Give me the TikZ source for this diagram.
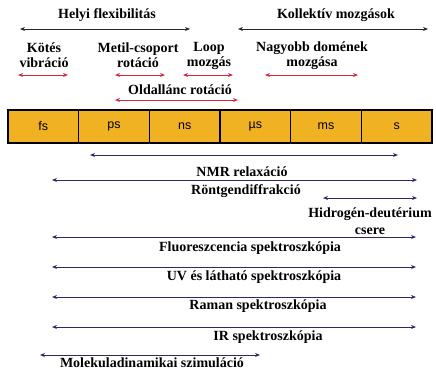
\documentclass[tikz,border=0pt]{standalone}
\usepackage{fontspec}
\setmainfont{Liberation Serif}
\newfontfamily\cellfont{Liberation Sans}
\usepackage{xcolor}
\usetikzlibrary{arrows.meta,positioning,calc}
\definecolor{barOrange}{RGB}{240,178,35}
\definecolor{motRed}{RGB}{215,40,60}
\definecolor{methNavy}{RGB}{45,40,110}

\begin{document}
\begin{tikzpicture}[x=1pt,y=-1pt,
  lbl/.style={font=\fontsize{14}{15}\selectfont\bfseries,align=center,inner sep=0pt},
  twoway/.style={line width=0.9pt,{Stealth[length=5pt,width=4pt]}-{Stealth[length=5pt,width=4pt]}},
  cell/.style={draw,line width=1.4pt,fill=barOrange,minimum width=70.67pt,minimum height=33pt,
    inner sep=0pt,font=\cellfont\fontsize{12.5}{14}\selectfont}]
  \useasboundingbox (0,0) rectangle (436,370);
  % top: two big groups
  \node[lbl] (helyi) at (107,15) {Helyi flexibilitás};
  \node[lbl] (koll) at (336,15) {Kollektív mozgások};
  \coordinate (helyiL) at (20,29); \coordinate (helyiR) at (190,29);
  \coordinate (kollL) at (238,29); \coordinate (kollR) at (428,29);
  \draw[twoway,black!85] (helyiL) -- (helyiR);
  \draw[twoway,black!85] (kollL) -- (kollR);
  % motions (red)
  \node[lbl] (kotes) at (44,55.5) {Kötés\\vibráció};
  \node[lbl] (metil) at (138,55.5) {Metil-csoport\\rotáció};
  \node[lbl] (loop) at (209,55.5) {Loop\\mozgás};
  \node[lbl] (domen) at (312,55.5) {Nagyobb domének\\mozgása};
  \node[lbl] (oldal) at (180,90) {Oldallánc rotáció};
  \foreach \nm/\xa/\xb/\y in {kotes/18/68/75, metil/115/165/75, loop/183/233/75,
      domen/265/358/75, oldal/115/238/100} {
    \coordinate (\nm-l) at (\xa,\y);
    \coordinate (\nm-r) at (\xb,\y);
    \draw[twoway,motRed] (\nm-l) -- (\nm-r);
  }
  % time scale bar
  \foreach \u [count=\i] in {fs,ps,ns,µs,ms,s}
    \node[cell] (t\i) at ({8+70.67*(\i-0.5)},126.5) {\u};
  % methods (navy)
  \node[lbl] (nmr) at (242,172) {NMR relaxáció};
  \node[lbl] (xrd) at (246,191) {Röntgendiffrakció};
  \node[lbl] (hdx) at (370,221) {Hidrogén-deutérium\\[2pt]csere};
  \node[lbl] (fluo) at (250,248) {Fluoreszcencia spektroszkópia};
  \node[lbl] (uvvis) at (254,277) {UV és látható spektroszkópia};
  \node[lbl] (raman) at (258,306) {Raman spektroszkópia};
  \node[lbl] (ir) at (268,337) {IR spektroszkópia};
  \node[lbl] (md) at (152,363) {Molekuladinamikai szimuláció};
  \foreach \nm/\xa/\xb/\y in {nmr/90/398/155, xrd/52/417/180, hdx/323/417/198,
      fluo/52/416/237, uvvis/52/416/267, raman/52/416/297, ir/52/416/327, md/40/260/355} {
    \coordinate (\nm-l) at (\xa,\y);
    \coordinate (\nm-r) at (\xb,\y);
    \draw[twoway,methNavy] (\nm-l) -- (\nm-r);
  }
\end{tikzpicture}
\end{document}
